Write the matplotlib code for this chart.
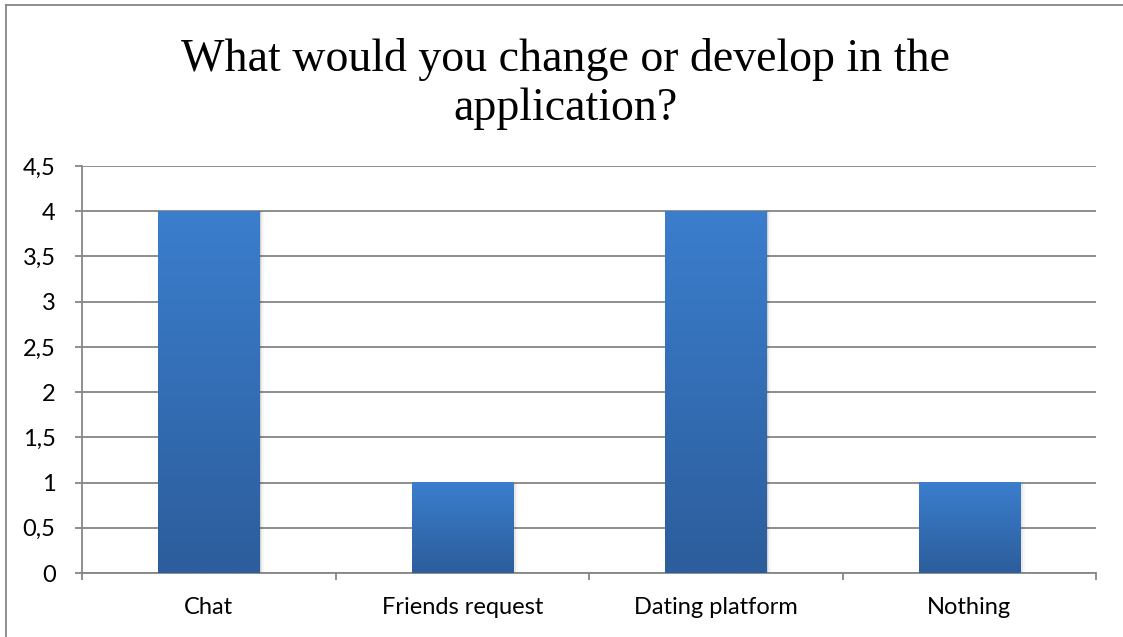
import numpy as np
import matplotlib.pyplot as plt
from matplotlib.patches import Rectangle

categories = ["Chat", "Friends request", "Dating platform", "Nothing"]
counts = [4, 1, 4, 1]
y_ticks = [0, 0.5, 1, 1.5, 2, 2.5, 3, 3.5, 4, 4.5]
y_tick_labels = ["0", "0,5", "1", "1,5", "2", "2,5", "3", "3,5", "4", "4,5"]
title = "What would you change or develop in the\napplication?"

grid_color = "#868686"
top_color = np.array([59, 126, 205]) / 255
bottom_color = np.array([44, 93, 156]) / 255

fig = plt.figure(figsize=(11.23, 6.37), dpi=100)
ax = fig.add_axes([82 / 1123, 1 - 573 / 637, (1096 - 82) / 1123, (573 - 166) / 637])

x = np.arange(len(categories))
bar_w = 0.40
bars = ax.bar(x, counts, width=bar_w, color="none", zorder=3)

# vertical gradient fill for each bar
grad = np.linspace(0, 1, 256)[:, None, None]
grad_img = bottom_color * (1 - grad) + top_color * grad
for b in bars:
    x0, w, h = b.get_x(), b.get_width(), b.get_height()
    # soft shadow to the right
    for i, a in enumerate([0.10, 0.06, 0.03]):
        ax.add_patch(Rectangle((x0 + w, 0), 0.006 * (i + 1), h, color="black",
                               alpha=a, lw=0, zorder=2))
    ax.imshow(grad_img, extent=(x0, x0 + w, 0, h), origin="lower",
              aspect="auto", zorder=3, interpolation="bilinear")

ax.set_xlim(-0.5, len(categories) - 0.5)
ax.set_ylim(0, 4.5)
ax.set_yticks(y_ticks)
ax.set_yticklabels(y_tick_labels)
ax.set_xticks(x)
ax.set_xticklabels(categories)
ax.set_xticks(np.arange(-0.5, len(categories)), minor=True)

ax.grid(axis="y", color=grid_color, lw=1.3, zorder=1)
for s in ["top", "right"]:
    ax.spines[s].set_visible(False)
for s in ["left", "bottom"]:
    ax.spines[s].set_color(grid_color)
    ax.spines[s].set_linewidth(1.3)

ax.tick_params(axis="y", length=5, width=1.3, color=grid_color, pad=14,
               labelsize=17, labelcolor="black")
ax.tick_params(axis="x", which="major", length=0, pad=17, labelsize=17,
               labelcolor="black")
ax.tick_params(axis="x", which="minor", length=5, width=1.3, color=grid_color)
for lab in ax.get_xticklabels() + ax.get_yticklabels():
    lab.set_fontfamily("Lato")

fig.text(0.5036, 1 - 84 / 637, title, ha="center", va="center", fontsize=33,
         family="Liberation Serif", linespacing=1.22)

# outer chart frame
fig.add_artist(plt.Line2D([6 / 1123, 6 / 1123], [0, 1 - 5 / 637],
                          transform=fig.transFigure, color=grid_color, lw=1.3))
fig.add_artist(plt.Line2D([6 / 1123, 1], [1 - 5 / 637, 1 - 5 / 637],
                          transform=fig.transFigure, color=grid_color, lw=1.3))

fig.savefig("out.png", dpi=100)
